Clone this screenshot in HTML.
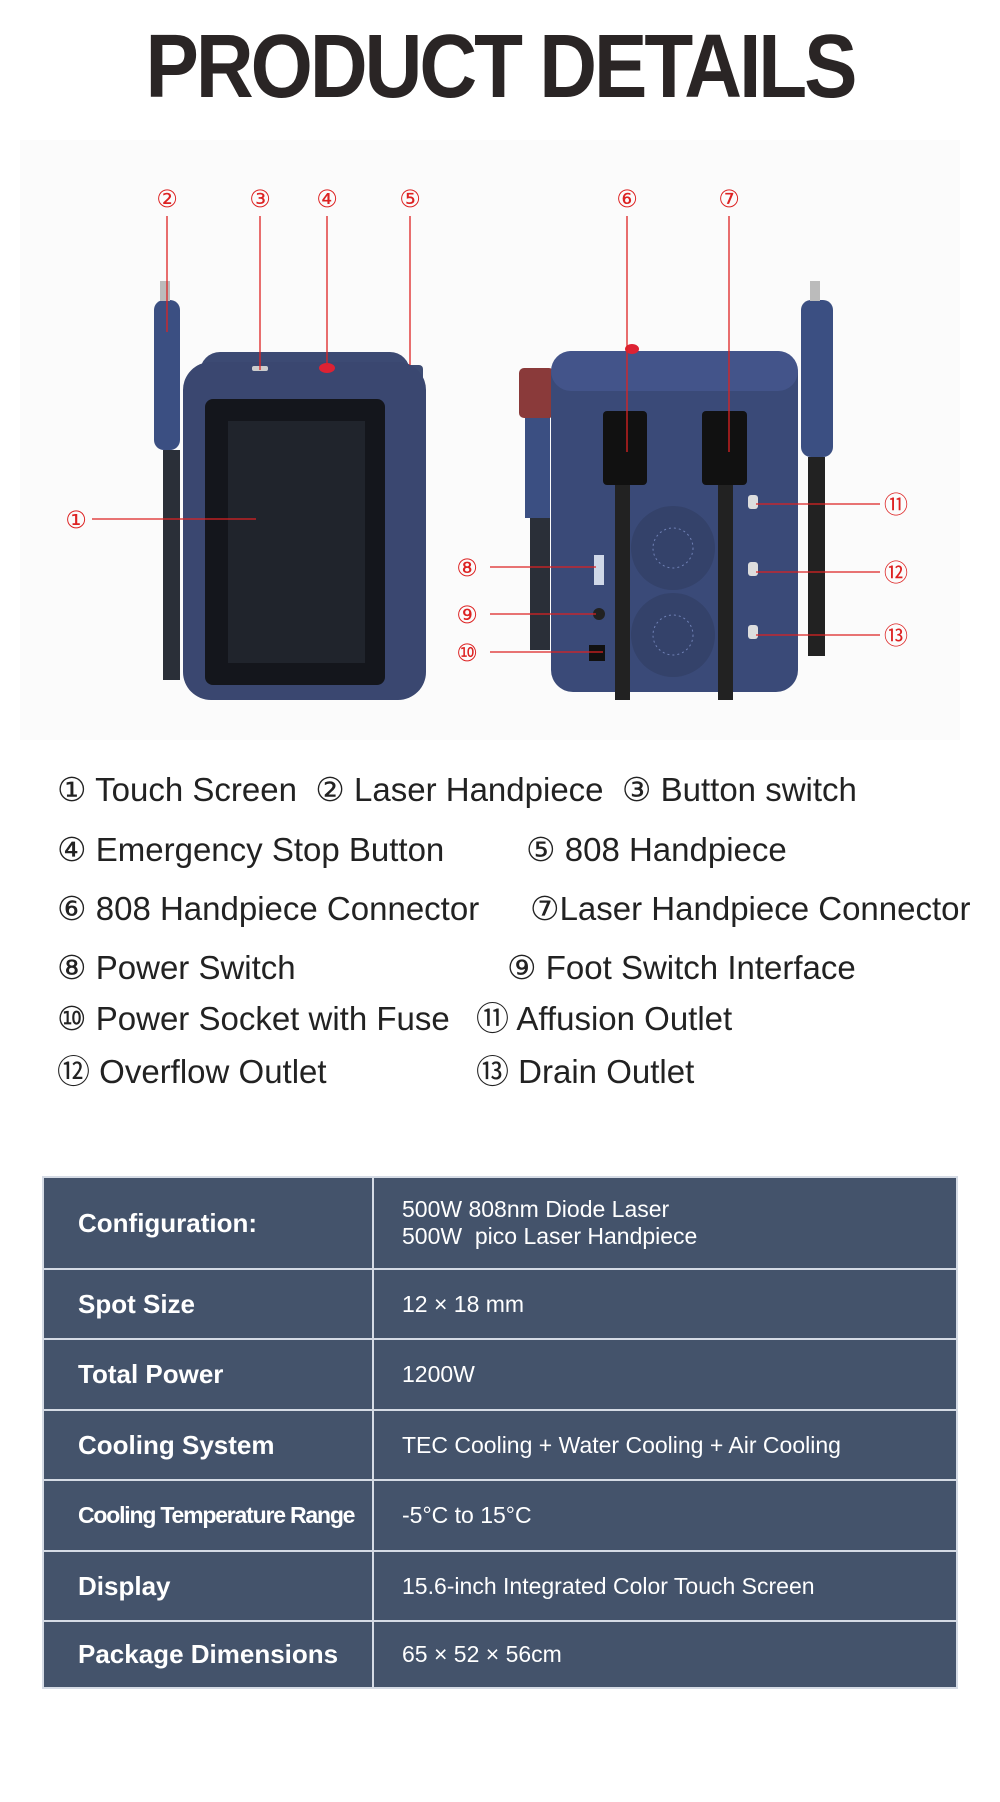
<!DOCTYPE html>
<html><head><meta charset="utf-8"><style>
body{margin:0;width:1000px;height:1802px;background:#fff;position:relative;overflow:hidden;font-family:"Liberation Sans","DejaVu Sans",sans-serif}
.t{position:absolute;left:0;width:1000px;top:22px;text-align:center;font-weight:bold;font-size:80px;color:#2a2525;letter-spacing:-3px;line-height:80px;transform:scaleY(1.12);transform-origin:50% 0}
.l{position:absolute;font-size:33px;color:#222;white-space:nowrap;line-height:38px}
table{position:absolute;left:42px;top:1176px;width:916px;border-collapse:collapse;background:#44536b;color:#fff;table-layout:fixed}
td{border:2px solid #d5dbe5;padding:0}
td.a{padding-left:34px;font-weight:bold;font-size:26px}
td.b{padding-left:28px;font-size:23px}
</style></head><body>
<div class="t">PRODUCT DETAILS</div>
<svg style="position:absolute;left:0;top:0" width="1000" height="760">
<rect x="20" y="140" width="940" height="600" fill="#fbfbfb"/>
<rect x="163" y="450" width="17" height="230" fill="#2a2f38"/>
<rect x="154" y="300" width="26" height="150" rx="10" fill="#3b4f82"/>
<rect x="160" y="281" width="10" height="20" fill="#bbb"/>
<rect x="407" y="404" width="10" height="264" fill="#2a2f38"/>
<rect x="391" y="365" width="32" height="40" rx="4" fill="#3d4c73"/>
<rect x="200" y="352" width="210" height="40" rx="20" fill="#3c4a73"/>
<rect x="183" y="362" width="243" height="338" rx="28" fill="#3a4770"/>
<rect x="205" y="399" width="180" height="286" rx="8" fill="#14161c"/>
<rect x="228" y="421" width="137" height="242" fill="#20242c"/>
<ellipse cx="327" cy="368" rx="8" ry="5" fill="#d23"/>
<rect x="252" y="366" width="16" height="5" rx="2" fill="#ccc"/>
<rect x="530" y="400" width="20" height="250" fill="#2a2f38"/>
<rect x="519" y="368" width="35" height="50" rx="5" fill="#8a3a3a"/>
<rect x="525" y="418" width="25" height="100" fill="#3b4f82"/>
<rect x="551" y="351" width="247" height="341" rx="22" fill="#3a4a78"/>
<rect x="551" y="351" width="247" height="40" rx="20" fill="#43548a"/>
<ellipse cx="632" cy="349" rx="7" ry="5" fill="#d23"/>
<circle cx="673" cy="548" r="42" fill="#34426a"/><circle cx="673" cy="548" r="20" fill="none" stroke="#6f80b5" stroke-dasharray="2 3"/>
<circle cx="673" cy="635" r="42" fill="#34426a"/><circle cx="673" cy="635" r="20" fill="none" stroke="#6f80b5" stroke-dasharray="2 3"/>
<rect x="603" y="411" width="44" height="74" rx="4" fill="#111"/>
<rect x="702" y="411" width="45" height="74" rx="4" fill="#111"/>
<rect x="615" y="485" width="15" height="215" fill="#222"/>
<rect x="718" y="485" width="15" height="215" fill="#222"/>
<rect x="801" y="300" width="32" height="157" rx="10" fill="#3b4f82"/>
<rect x="810" y="281" width="10" height="20" fill="#bbb"/>
<rect x="808" y="457" width="17" height="199" fill="#222"/>
<rect x="748" y="495" width="10" height="14" rx="3" fill="#ddd"/>
<rect x="748" y="562" width="10" height="14" rx="3" fill="#ddd"/>
<rect x="748" y="625" width="10" height="14" rx="3" fill="#ddd"/>
<rect x="594" y="555" width="10" height="30" fill="#cfd8e8"/>
<circle cx="599" cy="614" r="6" fill="#222"/>
<rect x="589" y="645" width="16" height="16" fill="#111"/>
<g fill="#d22" font-size="24" text-anchor="middle" font-family="DejaVu Sans,sans-serif">
<text x="167" y="207">②</text><text x="260" y="207">③</text><text x="327" y="207">④</text><text x="410" y="207">⑤</text>
<text x="627" y="207">⑥</text><text x="729" y="207">⑦</text>
<text x="76" y="528">①</text><text x="467" y="576">⑧</text><text x="467" y="623">⑨</text><text x="467" y="661">⑩</text>
<text x="896" y="513">⑪</text><text x="896" y="581">⑫</text><text x="896" y="644">⑬</text>
</g>
<g stroke="#d22" stroke-width="1.3">
<line x1="167" y1="216" x2="167" y2="332"/><line x1="260" y1="216" x2="260" y2="370"/><line x1="327" y1="216" x2="327" y2="365"/><line x1="410" y1="216" x2="410" y2="365"/>
<line x1="627" y1="216" x2="627" y2="452"/><line x1="729" y1="216" x2="729" y2="452"/>
<line x1="92" y1="519" x2="256" y2="519"/>
<line x1="490" y1="567" x2="596" y2="567"/><line x1="490" y1="614" x2="596" y2="614"/><line x1="490" y1="652" x2="603" y2="652"/>
<line x1="756" y1="504" x2="880" y2="504"/><line x1="756" y1="572" x2="880" y2="572"/><line x1="756" y1="635" x2="880" y2="635"/>
</g>
</svg>
<div class="l" style="left:57px;top:771px">① Touch Screen &nbsp;② Laser Handpiece &nbsp;③ Button switch</div>
<div class="l" style="left:57px;top:831px">④ Emergency Stop Button</div>
<div class="l" style="left:526px;top:831px">⑤ 808 Handpiece</div>
<div class="l" style="left:57px;top:890px">⑥ 808 Handpiece Connector</div>
<div class="l" style="left:530px;top:890px">⑦Laser Handpiece Connector</div>
<div class="l" style="left:57px;top:949px">⑧ Power Switch</div>
<div class="l" style="left:507px;top:949px">⑨ Foot Switch Interface</div>
<div class="l" style="left:57px;top:1000px">⑩ Power Socket with Fuse</div>
<div class="l" style="left:476px;top:1000px">⑪ Affusion Outlet</div>
<div class="l" style="left:57px;top:1053px">⑫ Overflow Outlet</div>
<div class="l" style="left:476px;top:1053px">⑬ Drain Outlet</div>
<table>
<colgroup><col style="width:330px"><col></colgroup>
<tr style="height:92px"><td class="a">Configuration:</td><td class="b">500W 808nm Diode Laser<br>500W&nbsp; pico Laser Handpiece</td></tr>
<tr style="height:70px"><td class="a">Spot Size</td><td class="b">12 × 18 mm</td></tr>
<tr style="height:71px"><td class="a">Total Power</td><td class="b">1200W</td></tr>
<tr style="height:70px"><td class="a">Cooling System</td><td class="b">TEC Cooling + Water Cooling + Air Cooling</td></tr>
<tr style="height:71px"><td class="a" style="font-size:23px;letter-spacing:-1.2px">Cooling Temperature Range</td><td class="b">-5°C to 15°C</td></tr>
<tr style="height:70px"><td class="a">Display</td><td class="b">15.6-inch Integrated Color Touch Screen</td></tr>
<tr style="height:67px"><td class="a">Package Dimensions</td><td class="b">65 × 52 × 56cm</td></tr>
</table>
</body></html>
